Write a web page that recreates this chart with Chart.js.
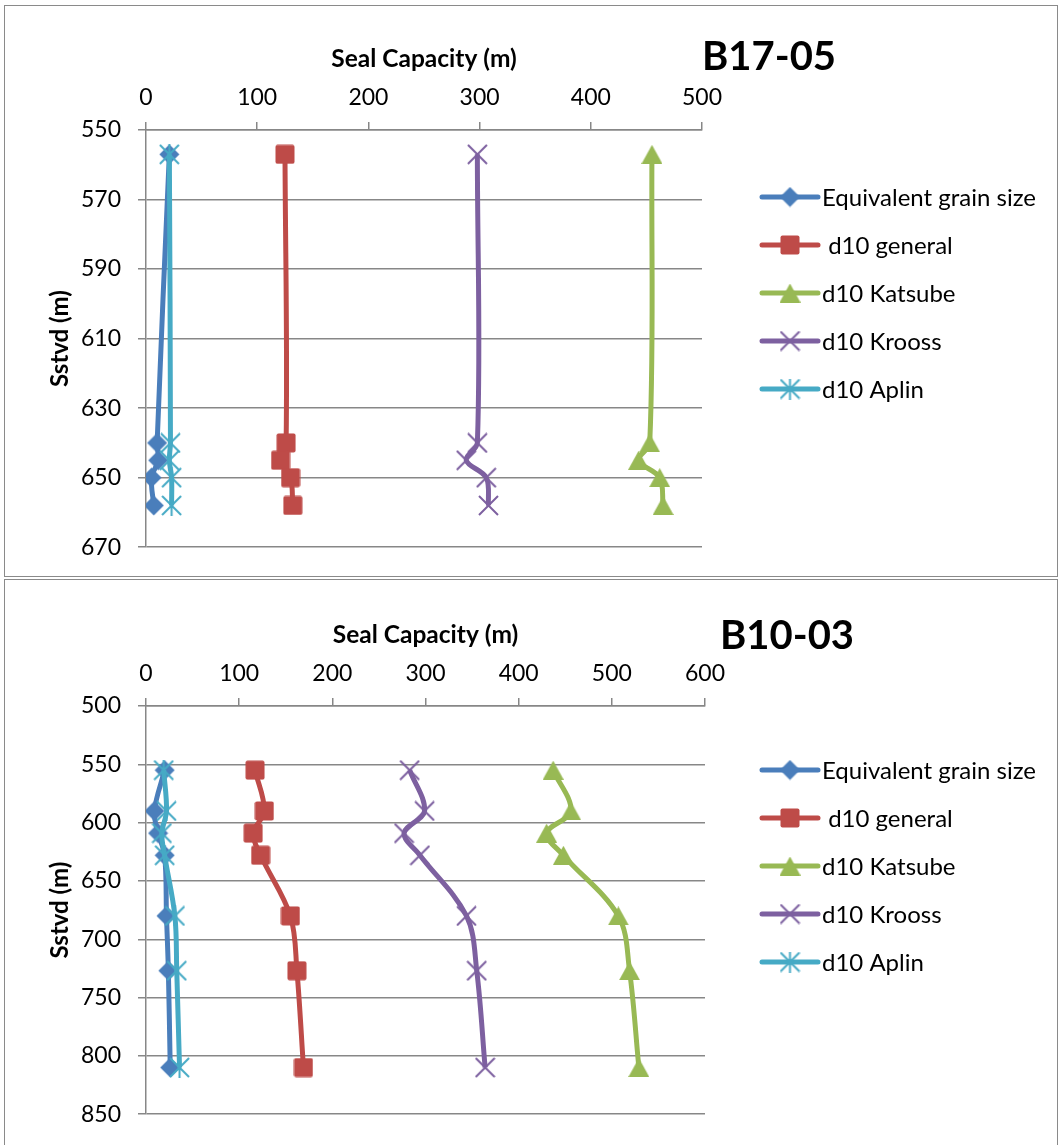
<!DOCTYPE html>
<html>
<head>
<meta charset="utf-8">
<title>Seal Capacity</title>
<script src="https://cdn.jsdelivr.net/npm/chart.js@4.4.1/dist/chart.umd.min.js"></script>
<style>
  html, body { margin: 0; padding: 0; background: #ffffff; }
  body { width: 1058px; height: 1145px; position: relative; overflow: hidden; }
  .frame { position: absolute; border: 1.5px solid #8a8a8a; box-sizing: border-box; }
  canvas { position: absolute; left: 0; }
</style>
</head>
<body>
<div class="frame" style="left:4px; top:5px; width:1054px; height:572px;"></div>
<div class="frame" style="left:4px; top:579px; width:1054px; height:600px;"></div>
<canvas id="wellB17" width="1058" height="578" style="top:0px;"></canvas>
<canvas id="wellB10" width="1058" height="567" style="top:578px;"></canvas>
<script>
// Series names shared by both wells
const seriesNames = ['Equivalent grain size', ' d10 general', 'd10 Katsube', 'd10 Krooss', 'd10 Aplin'];
const seriesColors = ['#4A7EBB', '#BE4B48', '#98B954', '#7D60A0', '#46AAC5'];
const seriesMarkers = ['diamond', 'square', 'triangle', 'x', 'star'];

// Well B17-05: depth (m) and seal capacity (m) per method
const b17Depth      = [557, 640, 645, 650, 658];
const b17Equivalent = [21, 10, 11, 5, 7];
const b17General    = [125, 126, 121, 130, 132];
const b17Katsube    = [455, 453, 443, 462, 465];
const b17Krooss     = [298, 298, 288, 306, 308];
const b17Aplin      = [21, 22, 21, 23, 23];

// Well B10-03: depth (m) and seal capacity (m) per method
const b10Depth      = [555, 590, 609, 628, 680, 727, 810];
const b10Equivalent = [20, 9, 13, 20, 22, 24, 26];
const b10General    = [117, 127, 115, 123, 155, 162, 169];
const b10Katsube    = [437, 456, 430, 448, 507, 519, 529];
const b10Krooss     = [283, 299, 277, 294, 344, 355, 364];
const b10Aplin      = [19, 22, 17, 20, 31, 33, 36];

// Axis ranges (capacity on top, depth increasing downward)
const b17CapacityTicks = { min: 0, max: 500, step: 100 };
const b17DepthTicks    = { min: 550, max: 670, step: 20 };
const b10CapacityTicks = { min: 0, max: 600, step: 100 };
const b10DepthTicks    = { min: 500, max: 850, step: 50 };

const FONT = 'Lato, "Open Sans", sans-serif';
const GRID = '#878787';

// Excel-style marker glyphs drawn on small canvases
function makeMarker(kind, color) {
  const c = document.createElement('canvas');
  const g = c.getContext('2d');
  if (kind === 'diamond') {
    c.width = 21; c.height = 21;
    g.fillStyle = color;
    g.beginPath(); g.moveTo(10.5, 0.5); g.lineTo(20.5, 10.5); g.lineTo(10.5, 20.5); g.lineTo(0.5, 10.5); g.closePath(); g.fill();
  } else if (kind === 'square') {
    c.width = 20; c.height = 20;
    g.fillStyle = color;
    g.beginPath();
    if (g.roundRect) g.roundRect(0.5, 0.5, 19, 19, 2); else g.rect(0.5, 0.5, 19, 19);
    g.fill();
  } else if (kind === 'triangle') {
    c.width = 21; c.height = 19;
    g.fillStyle = color;
    g.beginPath(); g.moveTo(10.5, 0); g.lineTo(21, 19); g.lineTo(0, 19); g.closePath(); g.fill();
  } else if (kind === 'x') {
    c.width = 21; c.height = 21;
    g.strokeStyle = color; g.lineWidth = 2;
    g.beginPath(); g.moveTo(1, 1); g.lineTo(20, 20); g.moveTo(20, 1); g.lineTo(1, 20); g.stroke();
  } else {
    c.width = 21; c.height = 21;
    g.strokeStyle = color; g.lineWidth = 2;
    g.beginPath(); g.moveTo(1, 1); g.lineTo(20, 20); g.moveTo(20, 1); g.lineTo(1, 20);
    g.moveTo(10.5, 0); g.lineTo(10.5, 21); g.stroke();
  }
  return c;
}
const markerImages = seriesMarkers.map((m, i) => makeMarker(m, seriesColors[i]));

function toPoints(depths, values) {
  return depths.map((d, i) => ({ x: values[i], y: d }));
}

// Legend: line sample with marker, then label, stacked to the right of the plot
const lineLegend = {
  id: 'lineLegend',
  afterDraw(chart, args, opts) {
    const ctx = chart.ctx;
    ctx.save();
    chart.data.datasets.forEach((ds, i) => {
      const y = chart.chartArea.top + opts.offsetY + i * opts.spacing;
      ctx.strokeStyle = ds.borderColor;
      ctx.lineWidth = 5;
      ctx.lineCap = 'round';
      ctx.beginPath(); ctx.moveTo(opts.x0, y); ctx.lineTo(opts.x1, y); ctx.stroke();
      const img = ds.pointStyle;
      ctx.drawImage(img, (opts.x0 + opts.x1) / 2 - img.width / 2, y - img.height / 2);
      ctx.fillStyle = '#000';
      ctx.font = opts.font;
      ctx.textBaseline = 'middle';
      ctx.textAlign = 'left';
      ctx.fillText(ds.label, opts.textX, y + 1);
    });
    ctx.restore();
  }
};

// Well name drawn beside the capacity axis title
const wellName = {
  id: 'wellName',
  afterDraw(chart, args, opts) {
    const ctx = chart.ctx;
    ctx.save();
    ctx.fillStyle = '#000';
    ctx.font = opts.font;
    ctx.textAlign = 'center';
    ctx.textBaseline = 'middle';
    ctx.fillText(opts.text, opts.x, opts.y);
    ctx.restore();
  }
};

function buildChart(canvasId, cfg) {
  const valueSets = cfg.values;
  const datasets = seriesNames.map((name, i) => ({
    label: name,
    data: toPoints(cfg.depth, valueSets[i]),
    showLine: true,
    borderColor: seriesColors[i],
    backgroundColor: seriesColors[i],
    borderWidth: 5,
    tension: 0.35,
    pointStyle: markerImages[i],
    pointRadius: 10,
    pointHoverRadius: 10,
    order: seriesNames.length - 1 - i
  }));

  return new Chart(document.getElementById(canvasId), {
    type: 'scatter',
    data: { datasets },
    options: {
      responsive: false,
      animation: false,
      events: [],
      layout: { padding: { left: 0, top: 0, right: cfg.padRight, bottom: cfg.padBottom } },
      plugins: {
        legend: { display: false },
        tooltip: { enabled: false },
        lineLegend: { x0: 762, x1: 818, textX: 822, offsetY: cfg.legendOffset, spacing: 48, font: '24px ' + FONT },
        wellName: { text: cfg.name, x: cfg.nameX, y: cfg.nameY, font: 'bold 40px ' + FONT }
      },
      scales: {
        x: {
          type: 'linear',
          position: 'top',
          min: cfg.xTicks.min, max: cfg.xTicks.max,
          ticks: { stepSize: cfg.xTicks.step, padding: 11, color: '#000', font: { family: FONT, size: 23 } },
          grid: { drawOnChartArea: false, drawTicks: true, tickLength: 8, color: GRID, lineWidth: 1.5 },
          border: { display: true, color: GRID, width: 1.5 },
          title: { display: true, text: 'Seal Capacity (m)', color: '#000',
                   font: { family: FONT, size: 24.5, weight: 'bold' }, padding: { top: cfg.xTitleTop, bottom: 0 } },
          afterFit(scale) { scale.height = cfg.axisTop; }
        },
        y: {
          type: 'linear',
          position: 'left',
          reverse: true,
          min: cfg.yTicks.min, max: cfg.yTicks.max,
          ticks: { stepSize: cfg.yTicks.step, padding: 17, color: '#000', font: { family: FONT, size: 23 } },
          grid: { drawOnChartArea: true, drawTicks: true, tickLength: 8, color: GRID, lineWidth: 1.5 },
          border: { display: true, color: GRID, width: 1.5 },
          title: { display: true, text: 'Sstvd (m)', color: '#000',
                   font: { family: FONT, size: 24, weight: 'bold' }, padding: { top: 45.5, bottom: 0 } },
          afterFit(scale) { scale.width = 146; }
        }
      }
    },
    plugins: [lineLegend, wellName]
  });
}

buildChart('wellB17', {
  name: 'B17-05', nameX: 769, nameY: 57,
  depth: b17Depth,
  values: [b17Equivalent, b17General, b17Katsube, b17Krooss, b17Aplin],
  xTicks: b17CapacityTicks, yTicks: b17DepthTicks,
  axisTop: 130, padRight: 1058 - 702, padBottom: 578 - 548,
  xTitleTop: 44, legendOffset: 67
});

buildChart('wellB10', {
  name: 'B10-03', nameX: 787, nameY: 58,
  depth: b10Depth,
  values: [b10Equivalent, b10General, b10Katsube, b10Krooss, b10Aplin],
  xTicks: b10CapacityTicks, yTicks: b10DepthTicks,
  axisTop: 128, padRight: 1058 - 705, padBottom: 567 - 541,
  xTitleTop: 42, legendOffset: 64
});
</script>
</body>
</html>
